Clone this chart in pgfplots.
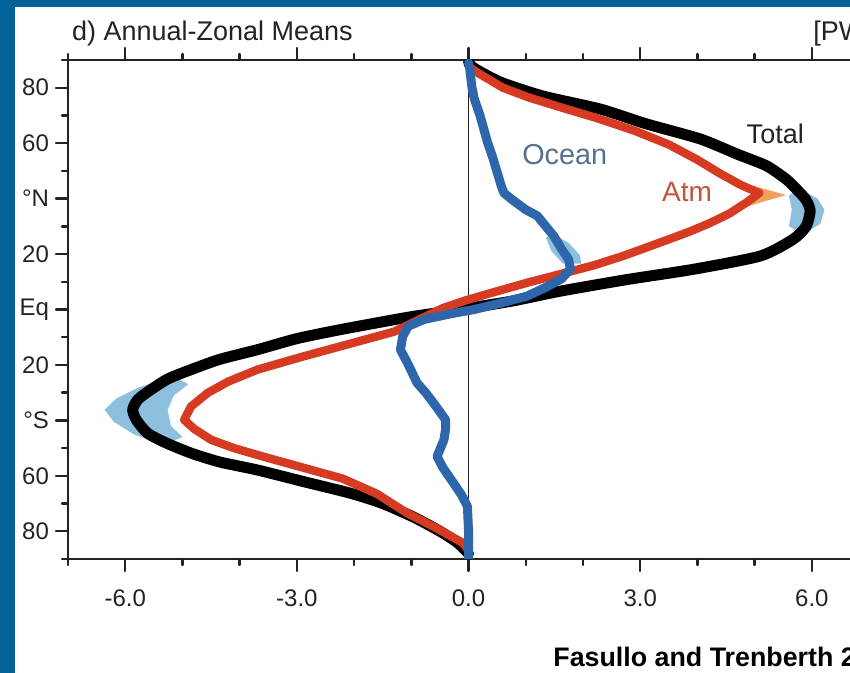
\documentclass[border=0pt]{standalone}
\usepackage{pgfplots}
\pgfplotsset{compat=1.18}
\usepackage{fontspec}
\setmainfont{Liberation Sans}
\definecolor{frameblue}{RGB}{3,98,150}
\definecolor{atmred}{RGB}{214,58,34}
\definecolor{oceanblue}{RGB}{46,102,172}
\definecolor{lightblue}{RGB}{140,192,222}
\definecolor{lightorange}{RGB}{240,160,90}
\definecolor{oceantext}{RGB}{88,112,140}
\definecolor{atmtext}{RGB}{196,84,54}
\definecolor{txt}{RGB}{35,35,35}

\begin{document}
\begin{tikzpicture}
\useasboundingbox (0,0) rectangle (425pt,336.5pt);
\clip (0,0) rectangle (425pt,336.5pt);
\fill[frameblue] (0,0) rectangle (425pt,336.5pt);
\fill[white] (7.5pt,0) rectangle (425pt,333pt);
\begin{axis}[
  at={(34pt,57pt)}, anchor=south west,
  width=400.55pt, height=249.5pt, scale only axis,
  xmin=-7, xmax=7, ymin=-90, ymax=90,
  axis line style={line width=1.4pt, txt},
  xtick={-6,-3,0,3,6}, xticklabels={-6.0,-3.0,0.0,3.0,6.0},
  minor xtick={-7,-5,-4,-2,-1,1,2,4,5,7},
  ytick={-80,-60,-40,-20,0,20,40,60,80},
  yticklabels={80,60,°S,20,Eq,20,°N,60,80},
  minor ytick={-90,-70,-50,-30,-10,10,30,50,70,90},
  tick align=outside,
  major tick length=6pt, minor tick length=3pt,
  every tick/.style={txt, line width=1.2pt},
  ticklabel style={font=\fontsize{12}{14}\selectfont, text=txt},
  xticklabel style={yshift=-6pt},
  line join=round, line cap=round,
]
% zero line
\addplot[txt, line width=0.9pt] coordinates {(0,-90) (0,90)};
% light blue ranges
\addplot[fill=lightblue, draw=none] coordinates {
 (-5.15,-24) (-5.75,-28) (-6.15,-32) (-6.36,-36.2) (-6.2,-40.5) (-5.85,-45) (-5.35,-49)
 (-5.0,-46) (-5.2,-42) (-5.26,-36.2) (-5.15,-31) (-4.9,-27)} -- cycle;
\addplot[fill=lightblue, draw=none] coordinates {
 (5.75,44) (6.1,40) (6.22,36) (6.15,31) (5.85,27) (5.6,30) (5.65,36) (5.6,41)} -- cycle;
\addplot[fill=lightblue, draw=none] coordinates {
 (1.35,26) (1.45,21) (1.65,16.5) (1.97,16.5) (1.95,19.5) (1.75,24) (1.5,27)} -- cycle;
% light orange range
\addplot[fill=lightorange, draw=none] coordinates {
 (4.3,48.5) (4.9,45) (5.55,41.3) (5.0,38) (4.5,34.5) (4.97,39.8) (5.08,42) (4.7,45)} -- cycle;
% Total
\addplot[black, line width=5.5pt, smooth, tension=0.4] coordinates {
 (0.0,89) (0.1,87) (0.56,82) (1.3,77) (2.3,72.3) (3.1,67) (4.05,61.5) (4.7,56)
 (5.21,51.8) (5.55,47) (5.75,43) (5.9,39.5) (5.97,35.6) (5.9,30) (5.67,25.3)
 (5.1,19.3) (3.93,14.5) (2.77,10.8) (1.6,6.6) (0.75,3) (-0.15,0) (-1.0,-2.6)
 (-1.65,-5) (-2.3,-7.5) (-3.0,-10.5) (-3.69,-14.5) (-4.35,-18) (-4.85,-21.7)
 (-5.25,-25) (-5.55,-28.9) (-5.78,-32.5) (-5.87,-36.2) (-5.8,-40) (-5.61,-44.6)
 (-5.3,-48) (-4.85,-51.8) (-4.35,-55) (-3.69,-57.9) (-2.9,-62) (-2.06,-66.3)
 (-1.5,-70) (-0.95,-75) (-0.5,-80) (-0.2,-84) (0,-88)};
% Atm
\addplot[atmred, line width=4.2pt] coordinates {
 (0.05,87) (0.15,85.5) (0.6,80) (1.05,76.5) (1.6,73) (2.25,69) (2.9,64.5)
 (3.5,59.5) (4.0,54) (4.4,49) (4.75,45) (5.08,42) (4.85,38.5) (4.55,34.5)
 (4.2,31) (3.85,28) (3.5,25.3) (3.1,22.3) (2.7,19.3) (2.2,16) (1.65,13)
 (1.05,9.8) (0.45,6.3) (-0.05,3.3) (-0.45,0.5) (-0.85,-3.5) (-1.3,-8)
 (-2.1,-12.5) (-2.9,-17) (-3.69,-21.7) (-4.2,-26) (-4.56,-30.1) (-4.85,-35)
 (-4.97,-39.8) (-4.8,-43) (-4.5,-47) (-4.1,-50) (-3.6,-53) (-2.9,-57)
 (-2.2,-61) (-1.6,-66.5) (-1.07,-73.5) (-0.55,-79) (-0.09,-84.3) (0,-87)};
% Ocean
\addplot[oceanblue, line width=4.5pt] coordinates {
 (0.0,89) (0.02,87) (0.06,80) (0.1,76) (0.2,70) (0.33,60.4) (0.42,55) (0.5,49.5)
 (0.58,44) (0.62,42) (0.75,39.8) (1.0,36) (1.2,33.8) (1.35,30) (1.49,26.5)
 (1.62,22) (1.75,18) (1.78,14.5) (1.62,11) (1.35,8) (1.02,4.8) (0.5,2) (0.1,0)
 (-0.3,-1.5) (-0.78,-3.6) (-1.05,-6) (-1.15,-9.6) (-1.19,-14.5) (-1.05,-20)
 (-0.9,-26.5) (-0.75,-30) (-0.61,-33.8) (-0.4,-39.8) (-0.4,-43) (-0.43,-47)
 (-0.55,-53) (-0.45,-57) (-0.26,-62.7) (-0.12,-67) (-0.02,-71) (0,-80) (0,-90)};
% labels
\node[text=txt, font=\fontsize{13.5}{16}\selectfont] at (axis cs:5.36,63.3) {Total};
\node[text=oceantext, font=\fontsize{14.4}{17}\selectfont] at (axis cs:1.68,56) {Ocean};
\node[text=atmtext, font=\fontsize{14}{17}\selectfont] at (axis cs:3.82,42.3) {Atm};
\end{axis}
\node[anchor=base west, text=txt, font=\fontsize{13.5}{16}\selectfont] at (32.5pt,316pt) {d) Annual-Zonal Means};
\node[anchor=base west, text=txt, font=\fontsize{13.5}{16}\selectfont, inner sep=0pt] at (406.5pt,316pt) {[PW]};
\node[anchor=base west, text=black, font=\bfseries\fontsize{13.4}{16}\selectfont, inner sep=0pt] at (276.5pt,3pt) {Fasullo and Trenberth 2008};
\end{tikzpicture}
\end{document}
